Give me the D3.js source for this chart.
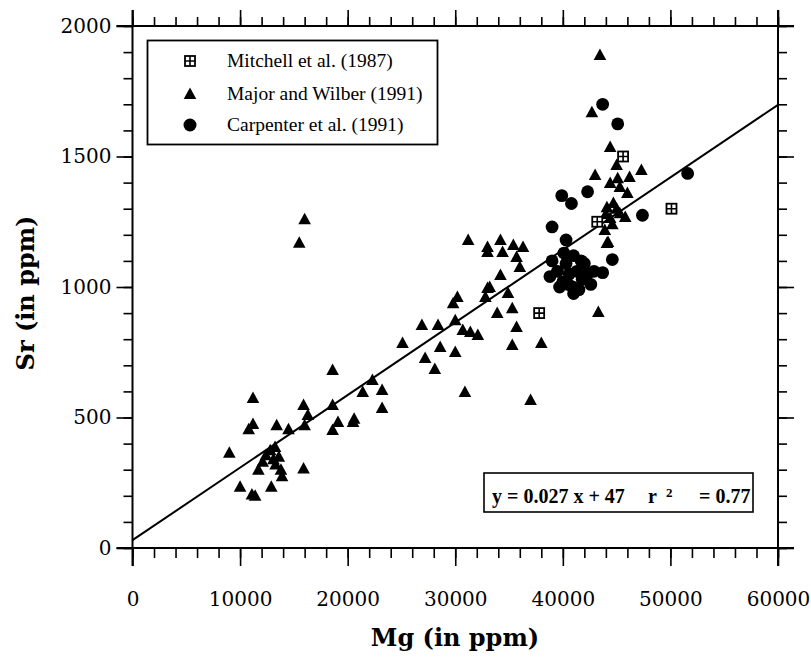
<!DOCTYPE html>
<html lang="en">
<head>
<meta charset="UTF-8">
<title>Sr vs Mg</title>
<script src="https://cdn.jsdelivr.net/npm/d3@7/dist/d3.min.js"></script>
<style>body{margin:0;background:#fff}</style>
</head>
<body>
<script>
// ---- data (Mg ppm, Sr ppm) ----
let mitchell = [[45600,1500],[43200,1250],[50100,1300],[37800,900]];

let majorWilber = [
    [9000,365],[10000,235],[10800,455],[11200,475],[11200,575],[11100,205],[11400,200],
    [11700,300],[12100,330],[12400,355],[12800,375],[13100,340],[13300,320],[13400,470],
    [13600,350],[12900,235],[13900,275],[14500,455],[13800,300],[13250,387],
    [15500,1170],[16000,1260],
    [15900,548],[16300,510],[16000,470],[15900,305],
    [18600,682],[18600,548],[19100,483],[18600,452],[20500,483],[20600,495],
    [21400,598],[22300,644],[23200,605],[23200,536],
    [25100,785],[26900,854],[27200,728],[28100,686],[28400,854],[28600,770],
    [29800,938],[30200,962],[30000,873],[30000,751],[30700,835],[31400,828],[32100,816],[30900,598],
    [32800,962],[33000,996],[31200,1180],[33000,1153],[33000,1134],[34200,1180],[34400,1134],
    [35400,1161],[36300,1153],[35700,1115],[36000,1077],[34200,1046],[33200,1000],[34900,977],
    [35300,919],[33900,900],[35700,847],[35300,778],[38000,785],[37000,567],
    [43300,904],[44200,1172],
    [43450,1889],[42700,1670],[44400,1536],[45000,1467],[43000,1429],[44400,1398],[45100,1417],
    [46200,1421],[47300,1448],[46000,1360],[45300,1383],[44100,1306],[44700,1322],[45300,1283],
    [44400,1264],[45800,1268],[43900,1218],[44100,1169],[44600,1240],[45000,1300],[44000,1280]
];

let carpenter = [
    [43700,1700],[45100,1625],[39900,1350],[40800,1320],[42300,1365],[47400,1275],[51600,1435],
    [39000,1230],[40300,1180],[44600,1105],[43700,1055],
    [39000,1100],[38800,1040],[39500,1060],[40000,1020],[40300,1090],[40600,1050],[40900,1000],
    [41000,1120],[41300,1060],[41500,990],[41800,1030],[42000,1090],[42300,1050],[42600,1010],
    [42900,1060],[41000,975],[39700,1000],[40500,1010],[41700,1100],[40100,1130]
];

let seriesNames = ["Mitchell et al. (1987)", "Major and Wilber (1991)", "Carpenter et al. (1991)"];
let xTicks = [0,10000,20000,30000,40000,50000,60000];
let yTicks = [0,500,1000,1500,2000];
let fitSlope = 0.0278, fitIntercept = 30;
let equation = ["y = 0.027 x + 47", "r", "2", "= 0.77"];

// ---- layout ----
let width = 811, height = 657;
let svg = d3.select("body").append("svg")
    .attr("width", width).attr("height", height)
    .style("background", "#fff");

let x = d3.scaleLinear().domain([0,60000]).range([132.5,778]);
let y = d3.scaleLinear().domain([0,2000]).range([548,26]);

let majorLen = 16, minorLen = 9;
let tickFont = "'DejaVu Serif', serif";

function addAxis(axisFn, scale, pos, transform, labels, majLen, minLen, pad) {
    let minor = svg.append("g").attr("transform", transform)
        .call(axisFn(scale).tickValues(scale.ticks(pos)).tickSize(minLen).tickFormat(""));
    let major = svg.append("g").attr("transform", transform)
        .call(axisFn(scale).tickValues(scale === x ? xTicks : yTicks).tickSize(majLen)
            .tickPadding(pad).tickFormat(labels ? d3.format("d") : ""));
    [minor, major].forEach(g => {
        g.select(".domain").remove();
        g.selectAll("line").attr("stroke", "#000").attr("stroke-width", 1.6);
    });
    major.selectAll("text").attr("font-family", tickFont).attr("font-size", 20).attr("fill", "#000");
    return major;
}

addAxis(d3.axisBottom, x, 30, `translate(0,${y(0)})`, true, 18, 10, 26);
addAxis(d3.axisTop, x, 30, `translate(0,${y(2000)})`, false, majorLen, minorLen, 6);
addAxis(d3.axisLeft, y, 20, `translate(${x(0)},0)`, true, majorLen, minorLen, 5);
addAxis(d3.axisRight, y, 20, `translate(${x(60000)},0)`, false, majorLen, minorLen, 6);

// frame lines, extended like the original
let frame = svg.append("g").attr("stroke", "#000").attr("stroke-width", 2);
frame.append("line").attr("x1", x(0) - majorLen).attr("x2", x(60000) + majorLen).attr("y1", y(0)).attr("y2", y(0));
frame.append("line").attr("x1", x(0) - majorLen).attr("x2", x(60000) + majorLen).attr("y1", y(2000)).attr("y2", y(2000));
frame.append("line").attr("x1", x(0)).attr("x2", x(0)).attr("y1", y(2000) - majorLen).attr("y2", y(0) + 18);
frame.append("line").attr("x1", x(60000)).attr("x2", x(60000)).attr("y1", y(2000) - majorLen).attr("y2", y(0) + 18);

// axis titles
svg.append("text").attr("x", 455).attr("y", 646).attr("text-anchor", "middle")
    .attr("font-family", tickFont).attr("font-weight", "bold").attr("font-size", 24)
    .text("Mg (in ppm)");
svg.append("text").attr("transform", `translate(34,${(y(0)+y(2000))/2 + 6}) rotate(-90)`)
    .attr("text-anchor", "middle")
    .attr("font-family", tickFont).attr("font-weight", "bold").attr("font-size", 24)
    .text("Sr (in ppm)");

// regression line
svg.append("line")
    .attr("x1", x(0)).attr("y1", y(fitIntercept))
    .attr("x2", x(60000)).attr("y2", y(fitIntercept + fitSlope * 60000))
    .attr("stroke", "#000").attr("stroke-width", 2);

// symbols
function triangle(g, cx, cy) {
    g.append("path").attr("d", `M${cx},${cy - 6.5}L${cx + 6.3},${cy + 5}L${cx - 6.3},${cy + 5}Z`).attr("fill", "#000");
}
function circle(g, cx, cy, r) {
    g.append("circle").attr("cx", cx).attr("cy", cy).attr("r", r).attr("fill", "#000");
}
function square(g, cx, cy) {
    g.append("rect").attr("x", cx - 5).attr("y", cy - 5).attr("width", 10).attr("height", 10)
        .attr("fill", "#fff").attr("stroke", "#000").attr("stroke-width", 1.8);
    g.append("path").attr("d", `M${cx - 5},${cy}H${cx + 5}M${cx},${cy - 5}V${cy + 5}`)
        .attr("stroke", "#000").attr("stroke-width", 1.6);
}

let pts = svg.append("g");
majorWilber.forEach(d => triangle(pts, x(d[0]), y(d[1])));
carpenter.forEach(d => circle(pts, x(d[0]), y(d[1]), 6.4));
mitchell.forEach(d => square(pts, x(d[0]), y(d[1])));

// legend
let legend = svg.append("g");
legend.append("rect").attr("x", 147.5).attr("y", 40.5).attr("width", 290).attr("height", 104)
    .attr("fill", "#fff").attr("stroke", "#000").attr("stroke-width", 1.8);
let rowsY = [61, 94, 125];
square(legend, 190, rowsY[0]);
triangle(legend, 190, rowsY[1]);
circle(legend, 190, rowsY[2], 6.5);
seriesNames.forEach((s, i) => {
    legend.append("text").attr("x", 227).attr("y", rowsY[i] + 6)
        .attr("font-family", "'Liberation Serif', serif").attr("font-size", 19.5)
        .text(s);
});

// equation box
svg.append("rect").attr("x", 484).attr("y", 473).attr("width", 269).attr("height", 39)
    .attr("fill", "#fff").attr("stroke", "#000").attr("stroke-width", 1.6);
let eq = svg.append("text").attr("y", 503)
    .attr("font-family", "'Liberation Serif', serif").attr("font-weight", "bold").attr("font-size", 20);
eq.append("tspan").attr("x", 492).text(equation[0]);
eq.append("tspan").attr("x", 648).text(equation[1]);
eq.append("tspan").attr("x", 666).attr("dy", -6).attr("font-size", 13).text(equation[2]);
eq.append("tspan").attr("x", 699).attr("dy", 6).text(equation[3]);
</script>
</body>
</html>
